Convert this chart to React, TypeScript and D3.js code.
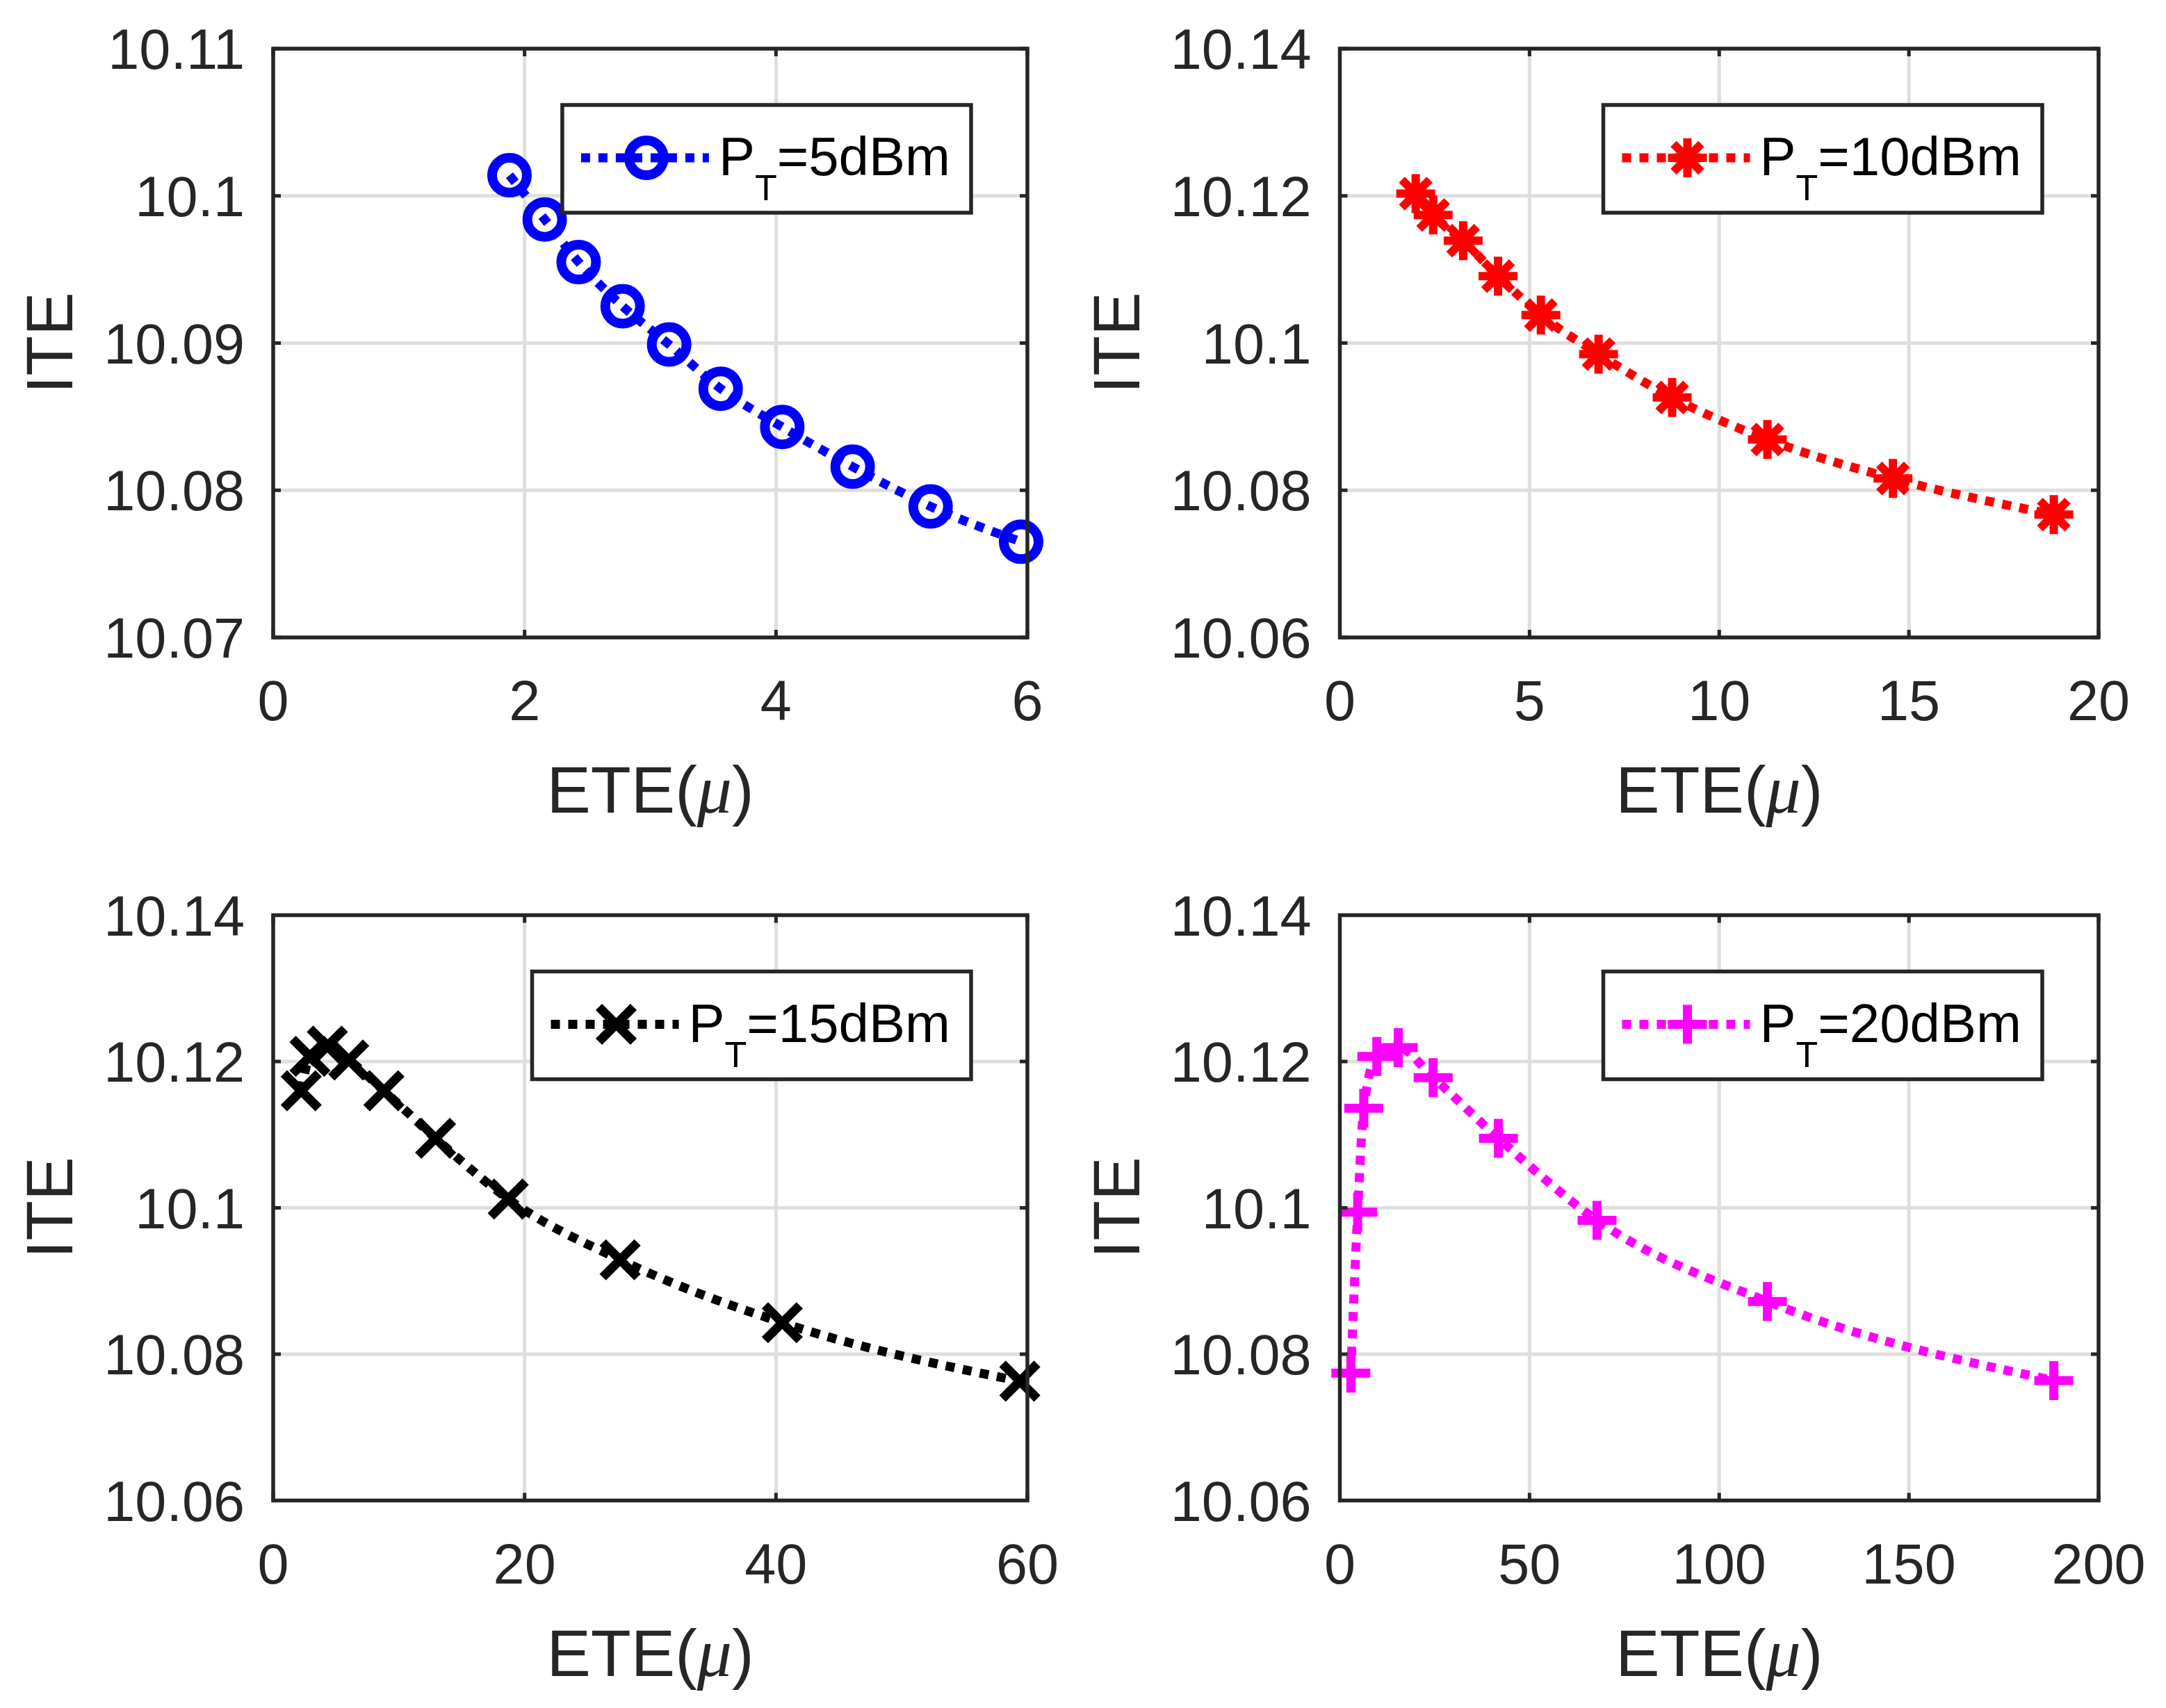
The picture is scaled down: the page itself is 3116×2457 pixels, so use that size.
import { useEffect, useRef } from 'react';
import * as d3 from 'd3';

// PT = 5 dBm
const ete5 = [1.88, 2.16, 2.43, 2.78, 3.15, 3.56, 4.05, 4.61, 5.23, 5.95];
const ite5 = [10.1014, 10.0984, 10.0955, 10.0925, 10.0899, 10.0869, 10.0843, 10.0816, 10.0789, 10.0765];
// PT = 10 dBm
const ete10 = [2.0, 2.46, 3.25, 4.17, 5.3, 6.82, 8.76, 11.27, 14.58, 18.82];
const ite10 = [10.1203, 10.1174, 10.1139, 10.1091, 10.1038, 10.0985, 10.0926, 10.0869, 10.0816, 10.0767];
// PT = 15 dBm
const ete15 = [2.23, 2.93, 4.31, 6.01, 8.81, 12.92, 18.7, 27.6, 40.5, 59.4];
const ite15 = [10.116, 10.1207, 10.1221, 10.1202, 10.116, 10.1095, 10.1012, 10.0929, 10.0843, 10.0763];
// PT = 20 dBm
const ete20 = [2.9, 4.7, 6.3, 9.75, 15.4, 24.6, 41.8, 67.8, 112.7, 188.2];
const ite20 = [10.0774, 10.0994, 10.1136, 10.1207, 10.1219, 10.1178, 10.1095, 10.0983, 10.0872, 10.0764];

const xTicks5 = [0, 2, 4, 6];
const xTicks10 = [0, 5, 10, 15, 20];
const xTicks15 = [0, 20, 40, 60];
const xTicks20 = [0, 50, 100, 150, 200];

const yTicksA = [10.07, 10.08, 10.09, 10.1, 10.11];
const yTickLabelsA = ['10.07', '10.08', '10.09', '10.1', '10.11'];
const yTicksB = [10.06, 10.08, 10.1, 10.12, 10.14];
const yTickLabelsB = ['10.06', '10.08', '10.1', '10.12', '10.14'];

const powers = ['5', '10', '15', '20'];

type Marker = 'circle' | 'asterisk' | 'x' | 'plus';

const INK = '#262626';
const FONT = '"Liberation Sans", Arial, Helvetica, sans-serif';

function markerPath(m: Marker): string {
    if (m === 'asterisk') return 'M0,-28V28M-28,0H28M-20,-20L20,20M-20,20L20,-20';
    if (m === 'x') return 'M-25,-25L25,25M-25,25L25,-25';
    return 'M0,-28V28M-28,0H28';
}

function drawMarker(g: d3.Selection<SVGGElement, unknown, null, undefined>, m: Marker, cx: number, cy: number, color: string) {
    if (m === 'circle') {
        g.append('circle')
            .attr('cx', cx).attr('cy', cy).attr('r', 25)
            .attr('fill', 'none').attr('stroke', color).attr('stroke-width', 14);
    } else {
        g.append('path')
            .attr('transform', `translate(${cx},${cy})`)
            .attr('d', markerPath(m))
            .attr('fill', 'none').attr('stroke', color)
            .attr('stroke-width', m === 'asterisk' ? 12 : 13);
    }
}

export default function App() {
    const ref = useRef<SVGSVGElement>(null);

    useEffect(() => {
        if (!ref.current) return;
        const svg = d3.select(ref.current);
        svg.selectAll('*').remove();

        svg.append('rect').attr('width', 3116).attr('height', 2457).attr('fill', '#fff');

        const colLeft = [393, 1927.5];
        const colWidth = [1085, 1091.5];
        const rowTop = [70, 1316.5];
        const rowHeight = [847, 842];

        const panels = [
            { xs: ete5, ys: ite5, xTicks: xTicks5, yTicks: yTicksA, yLabels: yTickLabelsA, color: '#0000ff', marker: 'circle' as Marker, pw: powers[0], col: 0, row: 0 },
            { xs: ete10, ys: ite10, xTicks: xTicks10, yTicks: yTicksB, yLabels: yTickLabelsB, color: '#ff0000', marker: 'asterisk' as Marker, pw: powers[1], col: 1, row: 0 },
            { xs: ete15, ys: ite15, xTicks: xTicks15, yTicks: yTicksB, yLabels: yTickLabelsB, color: '#000000', marker: 'x' as Marker, pw: powers[2], col: 0, row: 1 },
            { xs: ete20, ys: ite20, xTicks: xTicks20, yTicks: yTicksB, yLabels: yTickLabelsB, color: '#ff00ff', marker: 'plus' as Marker, pw: powers[3], col: 1, row: 1 },
        ];

        panels.forEach(p => {
            const left = colLeft[p.col];
            const right = left + colWidth[p.col];
            const top = rowTop[p.row];
            const bottom = top + rowHeight[p.row];

            const x = d3.scaleLinear()
                .domain([p.xTicks[0], p.xTicks[p.xTicks.length - 1]])
                .range([left, right]);
            const y = d3.scaleLinear()
                .domain([p.yTicks[0], p.yTicks[p.yTicks.length - 1]])
                .range([bottom, top]);

            const g = svg.append('g');

            // grid
            p.xTicks.slice(1, -1).forEach(t => {
                g.append('line').attr('x1', x(t)).attr('x2', x(t)).attr('y1', top).attr('y2', bottom)
                    .attr('stroke', '#dedede').attr('stroke-width', 5);
            });
            p.yTicks.slice(1, -1).forEach(t => {
                g.append('line').attr('x1', left).attr('x2', right).attr('y1', y(t)).attr('y2', y(t))
                    .attr('stroke', '#dedede').attr('stroke-width', 5);
            });

            // dotted line
            const idx = d3.range(p.xs.length);
            const line = d3.line<number>()
                .x(i => x(p.xs[i]))
                .y(i => y(p.ys[i]))
                .curve(d3.curveMonotoneX);
            g.append('path')
                .attr('d', line(idx) ?? '')
                .attr('fill', 'none')
                .attr('stroke', p.color)
                .attr('stroke-width', 13)
                .attr('stroke-dasharray', '13 12');

            // markers
            idx.forEach(i => drawMarker(g, p.marker, x(p.xs[i]), y(p.ys[i]), p.color));

            // axes box and ticks
            g.append('rect')
                .attr('x', left).attr('y', top)
                .attr('width', right - left).attr('height', bottom - top)
                .attr('fill', 'none').attr('stroke', INK).attr('stroke-width', 5.5);
            const tl = 11;
            p.xTicks.forEach(t => {
                g.append('line').attr('x1', x(t)).attr('x2', x(t)).attr('y1', bottom).attr('y2', bottom - tl)
                    .attr('stroke', INK).attr('stroke-width', 5);
                g.append('line').attr('x1', x(t)).attr('x2', x(t)).attr('y1', top).attr('y2', top + tl)
                    .attr('stroke', INK).attr('stroke-width', 5);
                g.append('text')
                    .attr('x', x(t)).attr('y', bottom + 119)
                    .attr('text-anchor', 'middle')
                    .style('font-family', FONT).style('font-size', '81px').attr('fill', INK)
                    .text(String(t));
            });
            p.yTicks.forEach((t, k) => {
                g.append('line').attr('x1', left).attr('x2', left + tl).attr('y1', y(t)).attr('y2', y(t))
                    .attr('stroke', INK).attr('stroke-width', 5);
                g.append('line').attr('x1', right).attr('x2', right - tl).attr('y1', y(t)).attr('y2', y(t))
                    .attr('stroke', INK).attr('stroke-width', 5);
                g.append('text')
                    .attr('x', left - 41).attr('y', y(t) + 29)
                    .attr('text-anchor', 'end')
                    .style('font-family', FONT).style('font-size', '81px').attr('fill', INK)
                    .text(p.yLabels[k]);
            });

            // axis titles
            const xl = g.append('text')
                .attr('x', (left + right) / 2).attr('y', bottom + 252)
                .attr('text-anchor', 'middle')
                .style('font-family', FONT).style('font-size', '95px').attr('fill', INK);
            xl.append('tspan').text('ETE(');
            xl.append('tspan')
                .style('font-family', '"Liberation Serif", "Times New Roman", serif')
                .style('font-style', 'italic')
                .style('font-size', '100px')
                .text('\u03bc');
            xl.append('tspan').text(')');

            g.append('text')
                .attr('transform', `translate(${left - 289},${(top + bottom) / 2}) rotate(-90)`)
                .attr('text-anchor', 'middle')
                .style('font-family', FONT).style('font-size', '94px').attr('fill', INK)
                .text('ITE');

            // legend
            const lg = g.append('g');
            const box = lg.append('rect');
            const txt = lg.append('text')
                .style('font-family', FONT).style('font-size', '78px').attr('fill', '#000');
            txt.append('tspan').text('P');
            txt.append('tspan').attr('dy', 36).style('font-size', '52px').text('T');
            txt.append('tspan').attr('dy', -36).text(`=${p.pw}dBm`);
            const tw = (txt.node() as SVGTextElement).getComputedTextLength();
            const lw = 225 + tw + 30;
            const lh = 155;
            const bx = right - 81 - lw;
            const by = top + 81;
            box.attr('x', bx).attr('y', by).attr('width', lw).attr('height', lh)
                .attr('fill', '#fff').attr('stroke', INK).attr('stroke-width', 5.5);
            txt.attr('x', bx + 225).attr('y', by + 101);
            lg.append('line')
                .attr('x1', bx + 27).attr('x2', bx + 211).attr('y1', by + 76).attr('y2', by + 76)
                .attr('stroke', p.color).attr('stroke-width', 13).attr('stroke-dasharray', '13 12');
            drawMarker(lg as unknown as d3.Selection<SVGGElement, unknown, null, undefined>, p.marker, bx + 121, by + 76, p.color);
        });
    }, []);

    return (
        <>
            <style>{'body{margin:0}'}</style>
            <svg ref={ref} width={3116} height={2457} style={{ display: 'block' }} />
        </>
    );
}
